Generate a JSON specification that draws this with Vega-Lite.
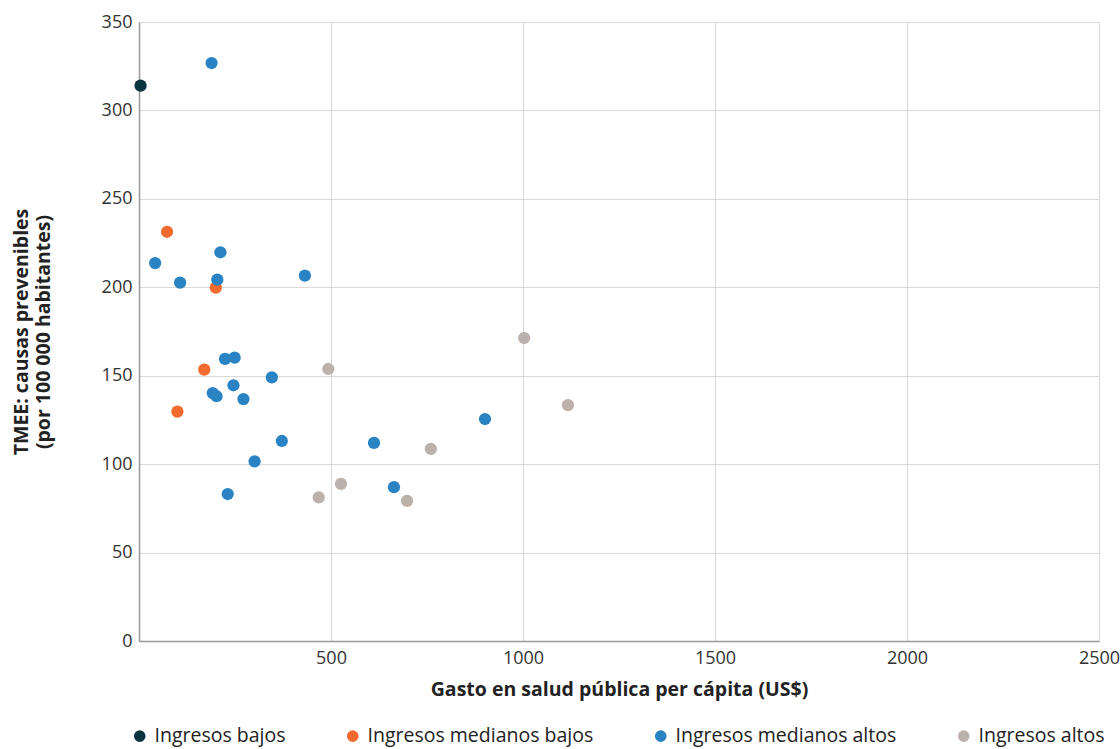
{
  "$schema": "https://vega.github.io/schema/vega-lite/v6.json",
  "autosize": {"type": "none"},
  "padding": {"left": 139, "top": 22, "right": 21, "bottom": 108},
  "width": 960,
  "height": 619,
  "background": "white",
  "config": {
    "font": "Open Sans",
    "view": {"stroke": null},
    "axis": {
      "labelFont": "Open Sans",
      "titleFont": "Open Sans",
      "labelFontSize": 18,
      "labelColor": "#333333",
      "titleColor": "#222222",
      "titleFontSize": 19.5,
      "titleFontWeight": "bold",
      "gridColor": "#d9d9d9",
      "gridWidth": 1,
      "domainColor": "#999999",
      "domainWidth": 1.5,
      "ticks": false,
      "format": "d"
    }
  },
  "data": {
    "values": [
      {"gasto": 4, "tmee": 314, "grupo": "Ingresos bajos"},
      {"gasto": 73, "tmee": 231.4, "grupo": "Ingresos medianos bajos"},
      {"gasto": 200, "tmee": 199.8, "grupo": "Ingresos medianos bajos"},
      {"gasto": 170, "tmee": 153.4, "grupo": "Ingresos medianos bajos"},
      {"gasto": 100, "tmee": 129.7, "grupo": "Ingresos medianos bajos"},
      {"gasto": 189, "tmee": 326.8, "grupo": "Ingresos medianos altos"},
      {"gasto": 42, "tmee": 213.7, "grupo": "Ingresos medianos altos"},
      {"gasto": 107, "tmee": 202.6, "grupo": "Ingresos medianos altos"},
      {"gasto": 212, "tmee": 219.8, "grupo": "Ingresos medianos altos"},
      {"gasto": 204, "tmee": 204.3, "grupo": "Ingresos medianos altos"},
      {"gasto": 432, "tmee": 206.6, "grupo": "Ingresos medianos altos"},
      {"gasto": 224, "tmee": 159.5, "grupo": "Ingresos medianos altos"},
      {"gasto": 249, "tmee": 160.2, "grupo": "Ingresos medianos altos"},
      {"gasto": 346, "tmee": 149.1, "grupo": "Ingresos medianos altos"},
      {"gasto": 246, "tmee": 144.6, "grupo": "Ingresos medianos altos"},
      {"gasto": 192, "tmee": 140.2, "grupo": "Ingresos medianos altos"},
      {"gasto": 202, "tmee": 138.4, "grupo": "Ingresos medianos altos"},
      {"gasto": 272, "tmee": 136.8, "grupo": "Ingresos medianos altos"},
      {"gasto": 372, "tmee": 113.1, "grupo": "Ingresos medianos altos"},
      {"gasto": 301, "tmee": 101.6, "grupo": "Ingresos medianos altos"},
      {"gasto": 231, "tmee": 83.1, "grupo": "Ingresos medianos altos"},
      {"gasto": 612, "tmee": 112, "grupo": "Ingresos medianos altos"},
      {"gasto": 664, "tmee": 87, "grupo": "Ingresos medianos altos"},
      {"gasto": 901, "tmee": 125.5, "grupo": "Ingresos medianos altos"},
      {"gasto": 493, "tmee": 153.8, "grupo": "Ingresos altos"},
      {"gasto": 468, "tmee": 81.2, "grupo": "Ingresos altos"},
      {"gasto": 526, "tmee": 88.8, "grupo": "Ingresos altos"},
      {"gasto": 698, "tmee": 79.2, "grupo": "Ingresos altos"},
      {"gasto": 760, "tmee": 108.6, "grupo": "Ingresos altos"},
      {"gasto": 1003, "tmee": 171.3, "grupo": "Ingresos altos"},
      {"gasto": 1117, "tmee": 133.4, "grupo": "Ingresos altos"}
    ]
  },
  "mark": {"type": "circle", "size": 150, "opacity": 1},
  "encoding": {
    "x": {
      "field": "gasto",
      "type": "quantitative",
      "scale": {"domain": [0, 2500], "nice": false},
      "axis": {
        "values": [500, 1000, 1500, 2000, 2500],
        "title": "Gasto en salud pública per cápita (US$)",
        "labelPadding": 8,
        "titlePadding": 13,
        "labelFlush": false
      }
    },
    "y": {
      "field": "tmee",
      "type": "quantitative",
      "scale": {"domain": [0, 350], "nice": false},
      "axis": {
        "values": [0, 50, 100, 150, 200, 250, 300, 350],
        "title": ["TMEE: causas prevenibles", "(por 100 000 habitantes)"],
        "titleLineHeight": 22,
        "labelPadding": 7,
        "titlePadding": 48,
        "labelFlush": false
      }
    },
    "color": {
      "field": "grupo",
      "type": "nominal",
      "scale": {
        "domain": ["Ingresos bajos", "Ingresos medianos bajos", "Ingresos medianos altos", "Ingresos altos"],
        "range": ["#0b3441", "#f26a2e", "#2a84c4", "#bdb2ab"]
      },
      "legend": {
        "title": null,
        "orient": "none",
        "direction": "horizontal",
        "legendX": -9,
        "legendY": 704,
        "symbolType": "circle",
        "symbolSize": 135,
        "symbolOpacity": 1,
        "labelFont": "Open Sans",
        "labelFontSize": 19.5,
        "labelColor": "#222222",
        "labelOffset": 5,
        "columnPadding": 57,
        "labelLimit": 400
      }
    }
  }
}
